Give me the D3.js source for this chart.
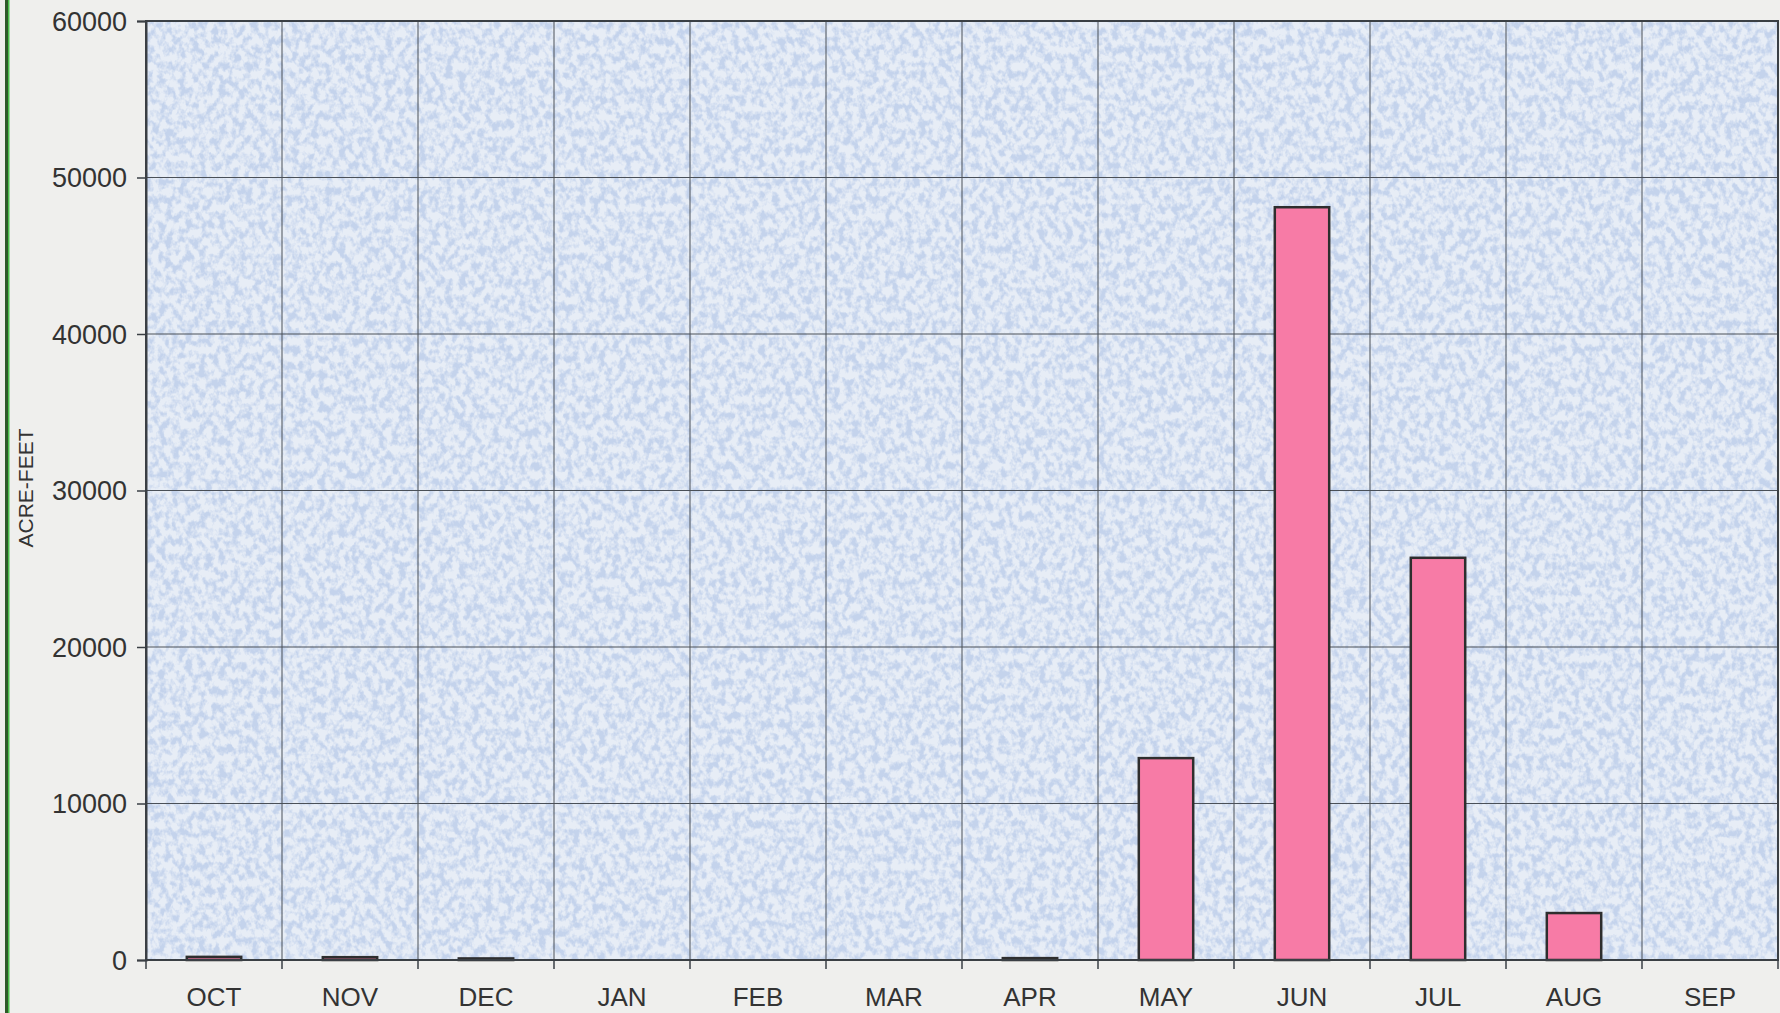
<!DOCTYPE html>
<html>
<head>
<meta charset="utf-8">
<script src="https://cdn.jsdelivr.net/npm/d3@7"></script>
<style>
  html, body { margin: 0; padding: 0; background: #efefed; }
  svg { display: block; }
  text { font-family: "Liberation Sans", Arial, sans-serif; fill: #333; }
</style>
</head>
<body>
<svg id="chart" width="1780" height="1013"></svg>
<script>
// Monthly volumes, water year Oct–Sep (acre-feet)
const months = ["OCT", "NOV", "DEC", "JAN", "FEB", "MAR", "APR", "MAY", "JUN", "JUL", "AUG", "SEP"];
const acreFeet = [200, 180, 100, 0, 0, 0, 120, 12900, 48100, 25700, 3000, 0];
const yTicks = [0, 10000, 20000, 30000, 40000, 50000, 60000];
const yLabel = "ACRE-FEET";

const W = 1780, H = 1013;
const margin = { top: 21, right: 2, bottom: 53, left: 146 };
const innerW = W - margin.left - margin.right;
const innerH = H - margin.top - margin.bottom;

const svg = d3.select("#chart");

// speckled blue fill for the plot area
const defs = svg.append("defs");
const f = defs.append("filter").attr("id", "speckle")
  .attr("x", 0).attr("y", 0).attr("width", "100%").attr("height", "100%");
f.append("feTurbulence").attr("type", "fractalNoise")
  .attr("baseFrequency", "0.15 0.12").attr("numOctaves", 3).attr("seed", 7);
f.append("feColorMatrix").attr("type", "matrix")
  .attr("values", "0 0 0 0 0.55  0 0 0 0 0.65  0 0 0 0 0.84  3.8 0 0 0 -1.55");

// left frame edge
svg.append("rect").attr("x", 5).attr("y", 0).attr("width", 4).attr("height", H).attr("fill", "#2f5a2a");
svg.append("rect").attr("x", 8).attr("y", 0).attr("width", 1.5).attr("height", H).attr("fill", "#49c04a");

const g = svg.append("g").attr("transform", `translate(${margin.left},${margin.top})`);

const x = d3.scaleBand().domain(months).range([0, innerW]).paddingInner(0.6).paddingOuter(0.3);
const xb = d3.scaleBand().domain(months).range([0, innerW]);
const y = d3.scaleLinear().domain([0, 60000]).range([innerH, 0]);

g.append("rect").attr("width", innerW).attr("height", innerH).attr("fill", "#e7edf6");
g.append("rect").attr("width", innerW).attr("height", innerH).attr("fill", "#fff").attr("filter", "url(#speckle)");

// horizontal grid
g.append("g").selectAll("line").data(yTicks.slice(1)).join("line")
  .attr("x1", 0).attr("x2", innerW)
  .attr("y1", d => y(d)).attr("y2", d => y(d))
  .attr("stroke", "#4a5058").attr("stroke-width", 1);

// vertical grid at month boundaries
g.append("g").selectAll("line").data(months.slice(1)).join("line")
  .attr("x1", d => xb(d)).attr("x2", d => xb(d))
  .attr("y1", 0).attr("y2", innerH)
  .attr("stroke", "#4a5058").attr("stroke-width", 1);

// plot frame
g.append("rect").attr("width", innerW).attr("height", innerH)
  .attr("fill", "none").attr("stroke", "#3a3f44").attr("stroke-width", 2);

// bars
g.append("g").selectAll("rect").data(months.map((m, i) => ({ m, v: acreFeet[i] })).filter(d => d.v > 0))
  .join("rect")
  .attr("x", d => x(d.m)).attr("width", x.bandwidth())
  .attr("y", d => y(d.v)).attr("height", d => innerH - y(d.v))
  .attr("fill", "#f77ba6").attr("stroke", "#2e2e2e").attr("stroke-width", 2.5);

// y axis
const yAxis = g.append("g").call(d3.axisLeft(y).tickValues(yTicks).tickFormat(d3.format("d")).tickSize(9).tickPadding(10));
yAxis.select(".domain").attr("stroke", "#3a3f44").attr("stroke-width", 2);
yAxis.selectAll(".tick line").attr("stroke", "#3a3f44").attr("stroke-width", 1.5);
yAxis.selectAll(".tick text").attr("font-size", 27).attr("dy", "0.35em")
  .attr("font-family", "Liberation Sans, Arial, sans-serif").attr("fill", "#333");

// x axis: labels centred in each month, ticks at boundaries
const xAxis = g.append("g").attr("transform", `translate(0,${innerH})`);
xAxis.append("line").attr("x1", 0).attr("x2", innerW).attr("stroke", "#3a3f44").attr("stroke-width", 2);
xAxis.selectAll("line.tk").data(months.concat(["_end"])).join("line").attr("class", "tk")
  .attr("x1", (d, i) => i * xb.bandwidth()).attr("x2", (d, i) => i * xb.bandwidth())
  .attr("y1", 0).attr("y2", 9).attr("stroke", "#3a3f44").attr("stroke-width", 1.5);
xAxis.selectAll("text").data(months).join("text")
  .attr("x", d => xb(d) + xb.bandwidth() / 2).attr("y", 46)
  .attr("text-anchor", "middle").attr("font-size", 26).text(d => d);

// y axis title
svg.append("text").attr("transform", "translate(33,488) rotate(-90)")
  .attr("text-anchor", "middle").attr("font-size", 21).text(yLabel);
</script>
</body>
</html>
